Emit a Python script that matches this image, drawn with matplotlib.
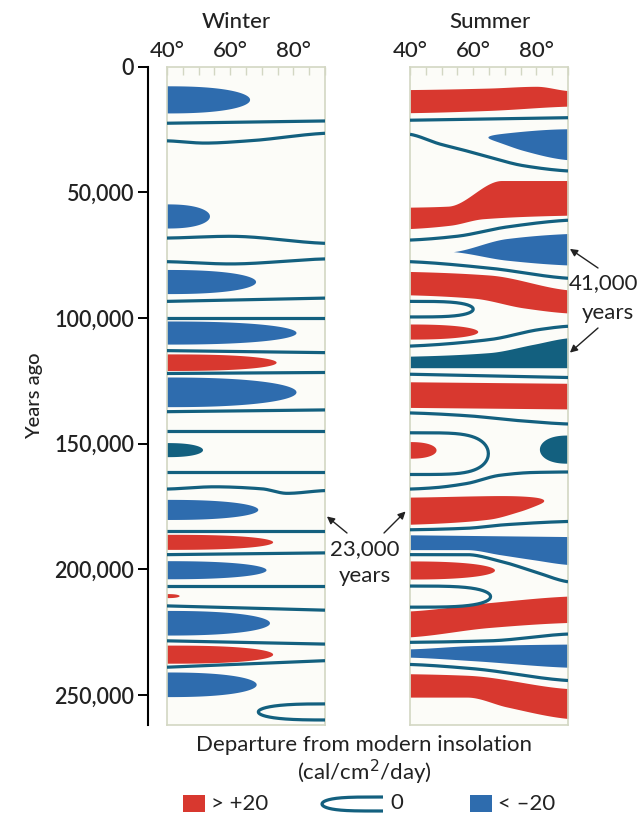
import numpy as np
import matplotlib
matplotlib.use('Agg')
import matplotlib.pyplot as plt
from matplotlib.patches import Rectangle

plt.rcParams['font.family'] = ['Lato', 'DejaVu Sans']

RED = '#d8382f'
BLUE = '#2e6cae'
DARK = '#13607f'
FRAME = '#d3d7c3'
INK = '#222222'

# ---------------------------------------------------------------------------
# data: latitude (deg N) vs thousands of years ago

# Winter panel
w_blue_mid = [13.2, 59.6, 85.7, 106.0, 129.6, 152.6, 176.4, 200.4, 221.5, 246.0]
w_blue_half = [5.4, 4.8, 4.8, 4.6, 5.9, 2.8, 4.0, 3.6, 4.9, 4.9]
w_blue_tip = [66.3, 53.6, 68.2, 81.0, 81.0, 51.4, 68.9, 71.5, 72.6, 68.4]

w_red_mid = [117.8, 189.3, 210.7, 234.0]
w_red_half = [3.3, 3.0, 0.8, 3.6]
w_red_tip = [74.7, 73.6, 44.0, 73.6]

w_zero_lat = [[40, 90], [40, 52, 66, 90], [40, 60, 90], [40, 60, 90], [40, 90],
              [40, 90], [40, 90], [40, 90], [40, 90], [40, 90], [40, 90],
              [40, 55, 70, 78, 90], [40, 90], [40, 90], [40, 90], [40, 90],
              [40, 90], [40, 90]]
w_zero_yr = [[22.5, 21.6], [29.5, 30.4, 29.5, 26.5], [68.2, 67.5, 70.3],
             [77.6, 78.5, 76.5], [93.4, 92.1], [100.0, 100.0], [113.0, 113.8],
             [122.1, 121.7], [137.3, 136.6], [144.8, 144.8], [161.5, 161.5],
             [168.1, 167.2, 168.0, 169.8, 168.7], [184.7, 184.7], [194.2, 193.5],
             [206.7, 206.7], [214.6, 216.3], [228.5, 229.8], [239.0, 236.4]]

# closed zero contour entering from the right edge
w_loop_mid = [256.8]
w_loop_half = [3.2]
w_loop_tip = [68.9]

# Summer panel: bands crossing the panel (top / bottom edges)
s_band_kind = ['pos', 'pos', 'neg', 'pos', 'neg_dark', 'pos', 'neg', 'pos', 'neg', 'pos']
s_band_top_lat = [[40, 65, 80, 90], [40, 52, 69, 90], [53.7, 70.6, 90], [40, 65, 90],
                  [40, 65, 79, 90], [40, 90], [40, 90], [40, 65, 90], [40, 60, 90],
                  [40, 58, 90]]
s_band_top_yr = [[9.1, 8.5, 7.8, 9.5], [55.9, 55.5, 45.3, 45.3], [73.6, 68.4, 66.4],
                 [81.5, 82.9, 88.8], [115.2, 113.8, 110.5, 107.9], [125.4, 126.0],
                 [186.3, 187.0], [216.6, 213.3, 210.7], [231.7, 230.4, 229.8],
                 [241.6, 242.2, 247.5]]
s_band_bot_lat = [[40, 65, 90], [40, 52.7, 63.2, 90], [53.7, 70.6, 90], [40, 60, 76, 90],
                  [40, 90], [40, 90], [40, 57.9, 68.5, 79, 90], [40, 65, 90],
                  [40, 60, 90], [40, 58, 70.6, 90]]
s_band_bot_yr = [[18.3, 17.4, 15.7], [64.4, 63.1, 60.5, 59.1], [73.6, 77.0, 78.9],
                 [90.8, 92.1, 96.0, 98.0], [119.8, 119.8], [135.6, 136.2],
                 [192.2, 192.2, 194.2, 196.2, 198.1], [226.9, 223.2, 221.2],
                 [235.0, 236.4, 239.0], [250.9, 250.9, 254.8, 259.4]]

# Summer panel: lobes (base edge, tip latitude, top / bottom edges)
s_lobe_kind = ['neg', 'pos', 'pos', 'neg_dark', 'pos', 'pos']
s_lobe_base = [90, 40, 40, 90, 40, 40]
s_lobe_tip = [64.8, 61.6, 48.4, 81.1, 82.5, 66.9]
s_lobe_top_lat = [[64.8, 76, 90], [40, 90], [40, 90], [40, 90], [40, 60, 82.5], [40, 90]]
s_lobe_top_yr = [[25.6, 25.3, 24.9], [102.6, 102.6], [149.4, 149.4], [146.8, 146.8],
                 [171.5, 171.0, 170.2], [196.9, 196.9]]
s_lobe_bot_lat = [[64.8, 76, 90], [40, 90], [40, 90], [40, 90], [40, 65, 75, 82.5], [40, 90]]
s_lobe_bot_yr = [[30.8, 34.1, 37.2], [108.6, 108.6], [156.0, 156.0], [158.0, 158.0],
                 [182.3, 180.4, 177.7, 175.5], [204.1, 204.1]]

s_zero_lat = [[40, 90], [40, 49.5, 55.8, 65.3, 75.9, 90], [40, 54.8, 70.6, 90],
              [40, 65.3, 90], [40, 65.3, 81, 90], [40, 90], [40, 58, 73.8, 90],
              [40, 47.4, 57.9, 68.5, 79, 90], [40, 58, 70, 90],
              [40, 58, 68.5, 79, 90], [40, 65.3, 90], [40, 60, 90]]
s_zero_yr = [[21.3, 20.3], [26.9, 30.8, 32.8, 36.1, 39.4, 41.5], [69.0, 67.5, 63.8, 61.1],
             [77.6, 80.2, 84.2], [111.2, 108.6, 104.6, 103.3], [122.4, 123.7],
             [137.8, 138.9, 140.8, 142.2], [168.1, 167.6, 165.9, 162.6, 161.5, 161.3],
             [184.3, 183.7, 182.3, 181.0], [194.2, 194.2, 196.8, 200.8, 205.0],
             [229.1, 228.5, 225.8], [237.9, 239.6, 244.3]]

s_loop_mid = [96.5, 154.0, 210.9]
s_loop_half = [3.1, 8.3, 4.2]
s_loop_tip = [60.0, 64.8, 65.5]

year_ticks = [0, 50000, 100000, 150000, 200000, 250000]
lat_ticks = [40, 60, 80]

# ---------------------------------------------------------------------------

def pchip(xn, yn, x):
    xn = np.asarray(xn, float)
    yn = np.asarray(yn, float)
    x = np.clip(np.asarray(x, float), xn[0], xn[-1])
    if len(xn) == 2:
        return np.interp(x, xn, yn)
    h = np.diff(xn)
    d = np.diff(yn) / h
    m = np.zeros_like(yn)
    for k in range(1, len(xn) - 1):
        if d[k - 1] * d[k] > 0:
            w1 = 2 * h[k] + h[k - 1]
            w2 = h[k] + 2 * h[k - 1]
            m[k] = (w1 + w2) / (w1 / d[k - 1] + w2 / d[k])
    m[0] = d[0] * 0.5
    m[-1] = d[-1] * 0.5
    i = np.clip(np.searchsorted(xn, x) - 1, 0, len(h) - 1)
    t = (x - xn[i]) / h[i]
    return ((2 * t**3 - 3 * t**2 + 1) * yn[i] + (t**3 - 2 * t**2 + t) * h[i] * m[i]
            + (-2 * t**3 + 3 * t**2) * yn[i + 1] + (t**3 - t**2) * h[i] * m[i + 1])


def lobe(base, tip, top_lat, top_yr, bot_lat, bot_yr, n=2.0, num=300):
    lat = np.linspace(base, tip, num)
    top = pchip(top_lat, top_yr, lat)
    bot = pchip(bot_lat, bot_yr, lat)
    mid = (top + bot) / 2
    hw = (bot - top) / 2
    t = np.abs(lat - base) / abs(tip - base)
    s = np.sqrt(np.clip(1 - t**n, 0, 1))
    xs = np.concatenate([lat, lat[::-1]])
    ys = np.concatenate([mid - hw * s, (mid + hw * s)[::-1]])
    return xs, ys


def colour(kind):
    return {'pos': RED, 'neg': BLUE, 'neg_dark': DARK}[kind]


def zero_line(ax, lat, yr):
    x = np.linspace(lat[0], lat[-1], 300)
    ax.plot(x, pchip(lat, yr, x) * 1000, color=DARK, lw=2.3,
            solid_capstyle='butt', zorder=4)


def loop(ax, base, tip, mid, half, n):
    xs, ys = lobe(base, tip, [40, 90], [mid - half] * 2, [40, 90], [mid + half] * 2, n=n)
    ax.plot(xs, ys * 1000, color=DARK, lw=2.3, solid_capstyle='butt', zorder=4)


def setup(ax):
    ax.set_xlim(40, 90)
    ax.set_ylim(262000, 0)
    ax.set_facecolor('#fcfcf8')
    for sp in ax.spines.values():
        sp.set_color(FRAME)
        sp.set_linewidth(1.2)
    ax.xaxis.tick_top()
    ax.set_xticks(np.arange(40, 91, 5))
    ax.set_xticklabels([f'{v}°' if v in lat_ticks else '' for v in range(40, 91, 5)])
    ax.tick_params(axis='x', direction='in', length=6, width=1, color=FRAME,
                   labelsize=16, pad=4, labelcolor=INK)
    for lb in ax.get_xticklabels():
        lb.set_fontweight('medium')
    ax.set_yticks([])


fig = plt.figure(figsize=(6.41, 8.18), dpi=100)
bottom = 1 - 725 / 818
height = (725 - 66.7) / 818
axw = fig.add_axes([167 / 641, bottom, 158 / 641, height])
axs = fig.add_axes([410 / 641, bottom, 158 / 641, height])
setup(axw)
setup(axs)

# ---- winter
dark_w = [False, False, False, False, False, True, False, False, False, False]
for c, h, tp, dk in zip(w_blue_mid, w_blue_half, w_blue_tip, dark_w):
    xs, ys = lobe(40, tp, [40, 90], [c - h] * 2, [40, 90], [c + h] * 2, n=2.4)
    axw.fill(xs, ys * 1000, color=DARK if dk else BLUE, lw=0, zorder=2)
for c, h, tp in zip(w_red_mid, w_red_half, w_red_tip):
    xs, ys = lobe(40, tp, [40, 90], [c - h] * 2, [40, 90], [c + h] * 2, n=2.6)
    axw.fill(xs, ys * 1000, color=RED, lw=0, zorder=2)
for lat, yr in zip(w_zero_lat, w_zero_yr):
    zero_line(axw, lat, yr)
for c, h, tp in zip(w_loop_mid, w_loop_half, w_loop_tip):
    loop(axw, 91, tp, c, h, 3)

# ---- summer
for kind, tl, ty, bl, by in zip(s_band_kind, s_band_top_lat, s_band_top_yr,
                                s_band_bot_lat, s_band_bot_yr):
    x = np.linspace(max(tl[0], bl[0]), 90, 300)
    axs.fill_between(x, pchip(tl, ty, x) * 1000, pchip(bl, by, x) * 1000,
                     color=colour(kind), lw=0, zorder=2)
for kind, b, tp, tl, ty, bl, by in zip(s_lobe_kind, s_lobe_base, s_lobe_tip,
                                       s_lobe_top_lat, s_lobe_top_yr,
                                       s_lobe_bot_lat, s_lobe_bot_yr):
    n = 6 if abs(tp - b) > 40 else 2.4
    xs, ys = lobe(b, tp, tl, ty, bl, by, n=n)
    axs.fill(xs, ys * 1000, color=colour(kind), lw=0, zorder=2)
for lat, yr in zip(s_zero_lat, s_zero_yr):
    zero_line(axs, lat, yr)
for c, h, tp in zip(s_loop_mid, s_loop_half, s_loop_tip):
    loop(axs, 39, tp, c, h, 5 if h > 5 else 4)

# ---- years axis
yax = fig.add_axes([148 / 641, bottom, 0.0001, height])
yax.set_ylim(262000, 0)
yax.set_xticks([])
for k in ['top', 'right', 'bottom']:
    yax.spines[k].set_visible(False)
yax.spines['left'].set_linewidth(1.5)
yax.set_yticks(year_ticks)
yax.set_yticklabels([f'{v:,}' for v in year_ticks])
yax.tick_params(axis='y', direction='out', length=7, width=1.4, pad=3,
                labelsize=15.5, labelcolor=INK)
for lb in yax.get_yticklabels():
    lb.set_fontweight('semibold')
yax.set_ylabel('Years ago', fontsize=14.5, labelpad=8, color=INK, fontweight='medium')
yax.plot([0, 5], [0, 0], color='k', lw=1.5, clip_on=False,
         transform=yax.get_yaxis_transform())

# ---- overlay for titles, notes and key (pixel coordinates)
ov = fig.add_axes([0, 0, 1, 1], zorder=5)
ov.set_xlim(0, 641)
ov.set_ylim(818, 0)
ov.axis('off')

ov.text(236, 22, 'Winter', fontsize=16, ha='center', va='center', color=INK,
        fontweight='medium')
ov.text(490, 22, 'Summer', fontsize=16, ha='center', va='center', color=INK,
        fontweight='medium')

ov.text(365, 549, '23,000', fontsize=16, ha='center', va='center', color=INK)
ov.text(365, 576, 'years', fontsize=16, ha='center', va='center', color=INK)
arrow = dict(arrowstyle='-|>', color=INK, lw=1.0, mutation_scale=11,
             shrinkA=0, shrinkB=0)
ov.annotate('', xy=(90.6, 179000), xycoords=axw.transData,
            xytext=(347, 533), textcoords=ov.transData, arrowprops=arrow)
ov.annotate('', xy=(38.6, 177000), xycoords=axs.transData,
            xytext=(384, 533), textcoords=ov.transData, arrowprops=arrow)

ov.text(638, 283, '41,000', fontsize=16, ha='right', va='center', color=INK)
ov.text(608, 313, 'years', fontsize=16, ha='center', va='center', color=INK)
ov.annotate('', xy=(90.6, 72500), xycoords=axs.transData,
            xytext=(598, 268), textcoords=ov.transData, arrowprops=arrow)
ov.annotate('', xy=(90.6, 113800), xycoords=axs.transData,
            xytext=(598, 328), textcoords=ov.transData, arrowprops=arrow)

ov.text(364, 745, 'Departure from modern insolation', fontsize=16, ha='center',
        va='center', color=INK)
ov.text(364, 772, '(cal/cm$^2$/day)', fontsize=16, ha='center', va='center',
        color=INK)

ov.add_patch(Rectangle((183, 795), 22, 17, color=RED, lw=0))
ov.text(211, 804, '> +20', fontsize=16, ha='left', va='center', color=INK)
xs, ys = lobe(383, 322, [0, 1000], [797, 797], [0, 1000], [811, 811], n=4)
ov.plot(xs, ys, color=DARK, lw=2.3, solid_capstyle='butt')
ov.text(390, 803, '0', fontsize=16, ha='left', va='center', color=INK)
ov.add_patch(Rectangle((470, 795), 22, 17, color=BLUE, lw=0))
ov.text(498, 804, '< \u201320', fontsize=16, ha='left', va='center', color=INK)

fig.savefig('out.png', dpi=100, facecolor='white')
